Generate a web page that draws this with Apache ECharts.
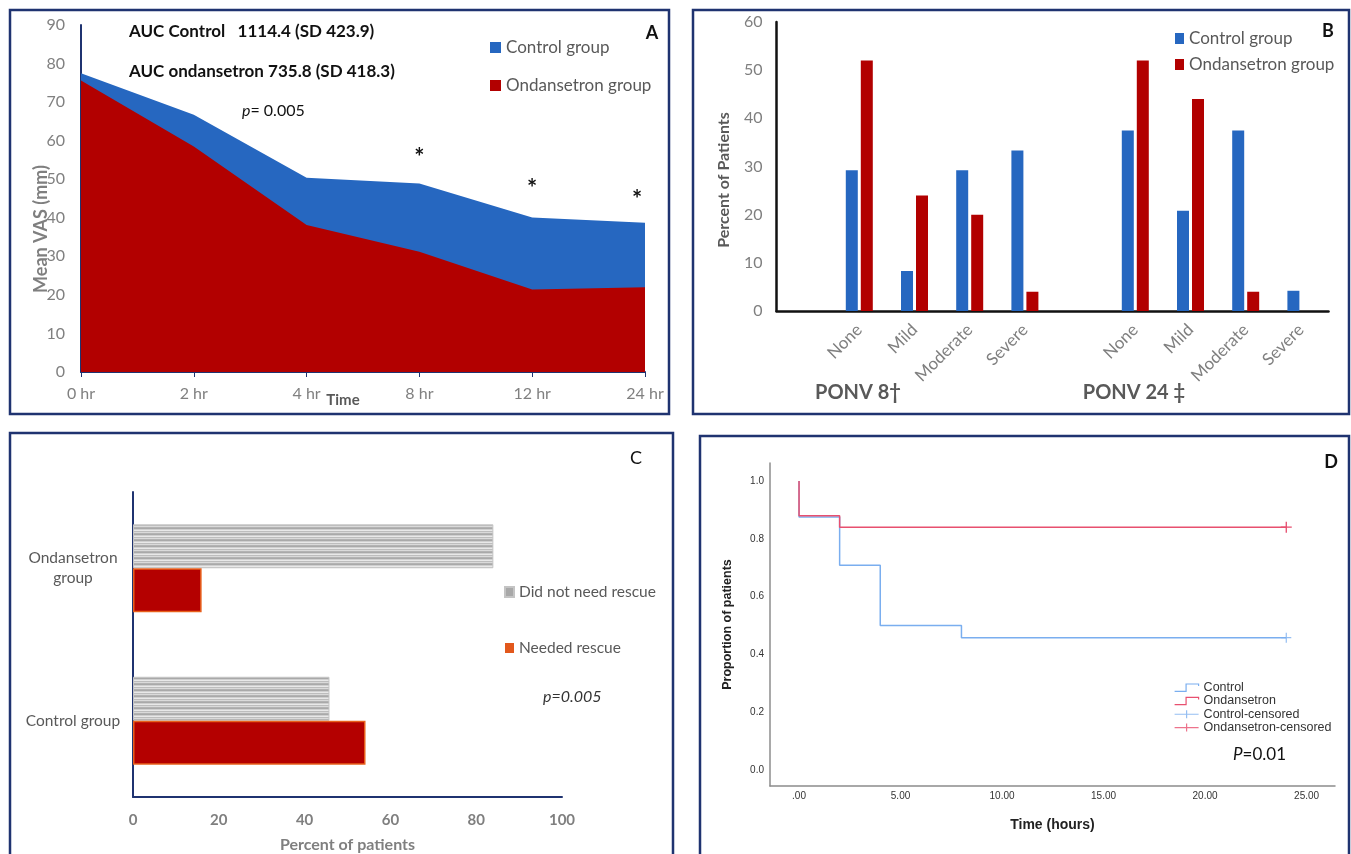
<!DOCTYPE html>
<html><head><meta charset="utf-8">
<script src="https://cdn.jsdelivr.net/npm/echarts@6/dist/echarts.min.js"></script>
<style>html,body{margin:0;padding:0;background:#fff}#c{width:1351px;height:854px}</style>
</head><body><div id="c"></div>
<script>
// ---- Panel A: mean VAS over time ----
const timeCats = ['0 hr', '2 hr', '4 hr', '8 hr', '12 hr', '24 hr'];
const vasControl = [77.5, 66.7, 50.4, 48.9, 40.1, 38.7];
const vasOndansetron = [75.6, 58.5, 38.1, 31.2, 21.4, 22.0];
const asteriskCats = ['8 hr', '12 hr', '24 hr'];
const asteriskY = [55.5, 47.5, 44.5];
// ---- Panel B: PONV severity ----
const ponvCats = ['', 'None', 'Mild', 'Moderate', 'Severe', '', 'None', 'Mild', 'Moderate', 'Severe'];
const ponvControl = [null, 29.2, 8.3, 29.2, 33.3, null, 37.5, 20.8, 37.5, 4.2];
const ponvOndansetron = [null, 52, 24, 20, 4, null, 52, 44, 4, 0];
// ---- Panel C: rescue analgesia ----
const rescueCats = ['Control group', 'Ondansetron\ngroup'];
const didNotNeed = [45.8, 84];
const neededRescue = [54.2, 16];
// ---- Panel D: Kaplan-Meier ----
const kmControlT = [0, 0, 2, 4, 8, 24];
const kmControlS = [1, 0.875, 0.708, 0.5, 0.458, 0.458];
const kmOndT = [0, 0, 2, 24];
const kmOndS = [1, 0.88, 0.84, 0.84];
const censControl = [[24, 0.458]];
const censOnd = [[24, 0.84]];
const kmXTicks = [0, 5, 10, 15, 20, 25];
const kmYTicks = [0, 0.2, 0.4, 0.6, 0.8, 1.0];

const CAL = 'Lato, "Open Sans", sans-serif';
const NAR = 'Lato, sans-serif';
const ARI = '"Liberation Sans", Arial, sans-serif';
const NAVY = '#1f3370';
const BLUE = '#2667c0', RED = '#b20000';

const pc = document.createElement('canvas'); pc.width = 4; pc.height = 6;
const g = pc.getContext('2d');
['#a9a9a9', '#cfcfcf', '#e8e8e8', '#bdbdbd', '#dadada', '#b3b3b3'].forEach((c, i) => { g.fillStyle = c; g.fillRect(0, i, 4, 1); });

const stepIcon = 'path://M0,8 L11,8 L11,1 L23,1 L23,3';
const crossIcon = 'path://M0,4 L24,4 M12,0 L12,8';
const crossSym = 'path://M4.4,0 H5.6 V4.4 H10 V5.6 H5.6 V10 H4.4 V5.6 H0 V4.4 H4.4 Z';

const chart = echarts.init(document.getElementById('c'), null, {renderer: 'canvas'});
const txt = (t, x, y, font, fill, align, rot, rich) => ({
  type: 'text', x: x, y: y, rotation: rot || 0, z: 50,
  style: {text: t, font: font, fill: fill, align: align || 'left', verticalAlign: 'middle', rich: rich}
});
const box = (x, y, w, h) => ({type: 'rect', shape: {x: x, y: y, width: w, height: h}, z: 40,
  style: {fill: 'none', stroke: NAVY, lineWidth: 2.5}});

chart.setOption({
  animation: false,
  backgroundColor: '#fff',
  grid: [
    {left: 81, top: 25, width: 564, height: 347},
    {left: 776.5, top: 22, width: 552, height: 289},
    {left: 133, top: 492, width: 429, height: 306},
    {left: 770, top: 463, width: 565, height: 323}
  ],
  xAxis: [
    {gridIndex: 0, type: 'category', data: timeCats, boundaryGap: false,
     axisLine: {lineStyle: {color: NAVY, width: 2}}, axisTick: {show: true, length: 5, lineStyle: {color: NAVY}},
     axisLabel: {color: '#808080', fontFamily: CAL, fontSize: 16, margin: 14}},
    {gridIndex: 1, type: 'category', data: ponvCats,
     axisLine: {lineStyle: {color: '#111', width: 2.5}}, axisTick: {show: false},
     axisLabel: {color: '#7f7f7f', fontFamily: CAL, fontSize: 17, rotate: 45, margin: 16, interval: 0}},
    {gridIndex: 2, type: 'value', min: 0, max: 100, interval: 20, splitLine: {show: false},
     axisLine: {show: true, lineStyle: {color: NAVY, width: 2}}, axisTick: {show: false},
     axisLabel: {color: '#7f7f7f', fontFamily: CAL, fontSize: 15, fontWeight: 'bold', margin: 16},
     name: 'Percent of patients', nameLocation: 'middle', nameGap: 40,
     nameTextStyle: {color: '#7f7f7f', fontFamily: CAL, fontSize: 16, fontWeight: 'bold'}},
    {gridIndex: 3, type: 'value', min: -1.43, max: 26.4, splitLine: {show: false},
     axisLine: {show: true, onZero: false, lineStyle: {color: '#8c8c8c', width: 1.5}}, axisTick: {show: false},
     axisLabel: {customValues: kmXTicks, color: '#333', fontFamily: ARI, fontSize: 10, margin: 5,
       formatter: v => v === 0 ? '.00' : v.toFixed(2)},
     name: 'Time (hours)', nameLocation: 'middle', nameGap: 32,
     nameTextStyle: {color: '#222', fontFamily: ARI, fontSize: 14, fontWeight: 'bold'}}
  ],
  yAxis: [
    {gridIndex: 0, type: 'value', min: 0, max: 90, interval: 10, splitLine: {show: false},
     axisLine: {show: true, lineStyle: {color: NAVY, width: 2}}, axisTick: {show: false},
     axisLabel: {color: '#808080', fontFamily: CAL, fontSize: 16, margin: 16}},
    {gridIndex: 1, type: 'value', min: 0, max: 60, interval: 10, splitLine: {show: false},
     axisLine: {show: true, lineStyle: {color: '#111', width: 2.5}}, axisTick: {show: false},
     axisLabel: {color: '#7f7f7f', fontFamily: CAL, fontSize: 16, margin: 14}},
    {gridIndex: 2, type: 'category', data: rescueCats,
     axisLine: {lineStyle: {color: NAVY, width: 2}}, axisTick: {show: false},
     axisLabel: {color: '#595959', fontFamily: NAR, fontSize: 15.5, align: 'center', margin: 60, lineHeight: 20}},
    {gridIndex: 3, type: 'value', min: -0.055, max: 1.062, splitLine: {show: false},
     axisLine: {show: true, onZero: false, lineStyle: {color: '#8c8c8c', width: 1.5}}, axisTick: {show: false},
     axisLabel: {customValues: kmYTicks, color: '#333', fontFamily: ARI, fontSize: 10, margin: 6,
       formatter: v => v.toFixed(1)},
     name: 'Proportion of patients', nameLocation: 'middle', nameGap: 36, nameRotate: 90,
     nameTextStyle: {color: '#222', fontFamily: ARI, fontSize: 12.5, fontWeight: 'bold'}}
  ],
  legend: [
    {left: 485, top: 34, orient: 'vertical', icon: 'rect', itemWidth: 11, itemHeight: 11, itemGap: 21,
     textStyle: {color: '#595959', fontFamily: CAL, fontSize: 17}, data: ['Control group', 'Ondansetron group'], selectedMode: false},
    {left: 1170, top: 25, orient: 'vertical', icon: 'rect', itemWidth: 9, itemHeight: 11, itemGap: 9,
     textStyle: {color: '#595959', fontFamily: CAL, fontSize: 17}, data: ['Control group', 'Ondansetron group'], selectedMode: false},
    {left: 499, top: 579, orient: 'vertical', icon: 'rect', itemWidth: 9, itemHeight: 10, itemGap: 40,
     textStyle: {color: '#595959', fontFamily: NAR, fontSize: 15.5}, selectedMode: false,
     data: [{name: 'Did not need rescue', itemStyle: {color: '#a8a8a8'}}, {name: 'Needed rescue', itemStyle: {color: '#e2581c', borderWidth: 0}}]},
    {left: 1169, top: 676, orient: 'vertical', itemWidth: 24, itemHeight: 8, itemGap: 0,
     textStyle: {color: '#333', fontFamily: ARI, fontSize: 12.5, lineHeight: 13.3}, selectedMode: false,
     data: [
       {name: 'Control', icon: stepIcon, itemStyle: {color: 'transparent', borderColor: '#7aaeef', borderWidth: 1.2}},
       {name: 'Ondansetron', icon: stepIcon, itemStyle: {color: 'transparent', borderColor: '#e8506f', borderWidth: 1.2}},
       {name: 'Control-censored', icon: crossIcon, itemStyle: {color: 'transparent', borderColor: '#7aaeef', borderWidth: 1.2}},
       {name: 'Ondansetron-censored', icon: crossIcon, itemStyle: {color: 'transparent', borderColor: '#e8506f', borderWidth: 1.2}}
     ]}
  ],
  series: [
    {name: 'Control group', type: 'line', xAxisIndex: 0, yAxisIndex: 0, data: vasControl, symbol: 'none',
     itemStyle: {color: BLUE}, lineStyle: {width: 0}, areaStyle: {color: BLUE, opacity: 1},
     markPoint: {symbol: 'circle', symbolSize: 1, itemStyle: {color: 'transparent'}, silent: true,
       label: {show: true, formatter: '*', color: '#111', fontSize: 24, fontWeight: 'bold', fontFamily: CAL, position: 'inside'},
       data: asteriskCats.map((c, i) => ({coord: [c, asteriskY[i]], label: i === 2 ? {offset: [-8, 0]} : {}}))}},
    {name: 'Ondansetron group', type: 'line', xAxisIndex: 0, yAxisIndex: 0, data: vasOndansetron, symbol: 'none',
     itemStyle: {color: RED}, lineStyle: {width: 0}, areaStyle: {color: RED, opacity: 1}},
    {name: 'Control group', type: 'bar', xAxisIndex: 1, yAxisIndex: 1, data: ponvControl, barWidth: 12, barGap: '25%',
     itemStyle: {color: BLUE}},
    {name: 'Ondansetron group', type: 'bar', xAxisIndex: 1, yAxisIndex: 1, data: ponvOndansetron, barWidth: 12, barGap: '25%',
     itemStyle: {color: RED}},
    {name: 'Did not need rescue', type: 'bar', xAxisIndex: 2, yAxisIndex: 2, data: didNotNeed, barWidth: 44, barGap: '0%',
     itemStyle: {color: {image: pc, repeat: 'repeat'}, borderColor: '#c4c4c4', borderWidth: 1}},
    {name: 'Needed rescue', type: 'bar', xAxisIndex: 2, yAxisIndex: 2, data: neededRescue, barWidth: 44, barGap: '0%',
     itemStyle: {color: '#b40000', borderColor: '#e8601c', borderWidth: 1.5}},
    {name: 'Control', type: 'line', xAxisIndex: 3, yAxisIndex: 3, step: 'end', symbol: 'none',
     data: kmControlT.map((t, i) => [t, kmControlS[i]]), itemStyle: {color: '#7aaeef'}, lineStyle: {color: '#7aaeef', width: 1.5}},
    {name: 'Ondansetron', type: 'line', xAxisIndex: 3, yAxisIndex: 3, step: 'end', symbol: 'none',
     data: kmOndT.map((t, i) => [t, kmOndS[i]]), itemStyle: {color: '#e8506f'}, lineStyle: {color: '#e8506f', width: 1.5}},
    {name: 'Control-censored', type: 'scatter', xAxisIndex: 3, yAxisIndex: 3, data: censControl,
     symbol: crossSym, symbolSize: 10, itemStyle: {color: '#7aaeef'}},
    {name: 'Ondansetron-censored', type: 'scatter', xAxisIndex: 3, yAxisIndex: 3, data: censOnd,
     symbol: crossSym, symbolSize: 11, itemStyle: {color: '#e0204a'}}
  ],
  graphic: [
    box(10, 10, 659, 404), box(693, 10, 656, 404), box(10, 433, 663, 440), box(700, 436, 649, 440),
    txt('AUC Control   1114.4 (SD 423.9)', 129, 32, 'bold 17px ' + CAL, '#111'),
    txt('AUC ondansetron 735.8 (SD 418.3)', 129, 72, 'bold 17px ' + CAL, '#111'),
    txt('{i|p}= 0.005', 242, 111, '16px ' + CAL, '#111', 'left', 0,
        {i: {fontStyle: 'italic', fontFamily: CAL, fontSize: 16, fill: '#111'}}),
    txt('A', 652, 33, 'bold 18px ' + CAL, '#111', 'center'),
    txt('Time', 343, 400, 'bold 15px ' + CAL, '#595959', 'center'),
    txt('Mean VAS (mm)', 41.5, 229, 'bold 18px ' + CAL, '#7f7f7f', 'center', Math.PI / 2),
    txt('B', 1328, 31, 'bold 18px ' + CAL, '#111', 'center'),
    txt('Percent of Patients', 724, 180, 'bold 16px ' + CAL, '#595959', 'center', Math.PI / 2),
    txt('PONV 8†', 858, 393, 'bold 20px ' + CAL, '#595959', 'center'),
    txt('PONV 24 ‡', 1134, 393, 'bold 20px ' + CAL, '#595959', 'center'),
    txt('C', 636, 458, '18px ' + CAL, '#111', 'center'),
    txt('p=0.005', 543, 697, 'italic 16px ' + NAR, '#333', 'left'),
    txt('D', 1331, 462, 'bold 18px ' + CAL, '#111', 'center'),
    txt('{i|P}=0.01', 1233, 755, '17px ' + CAL, '#111', 'left', 0,
        {i: {fontStyle: 'italic', fontFamily: CAL, fontSize: 17, fill: '#111'}})
  ]
});
</script></body></html>
